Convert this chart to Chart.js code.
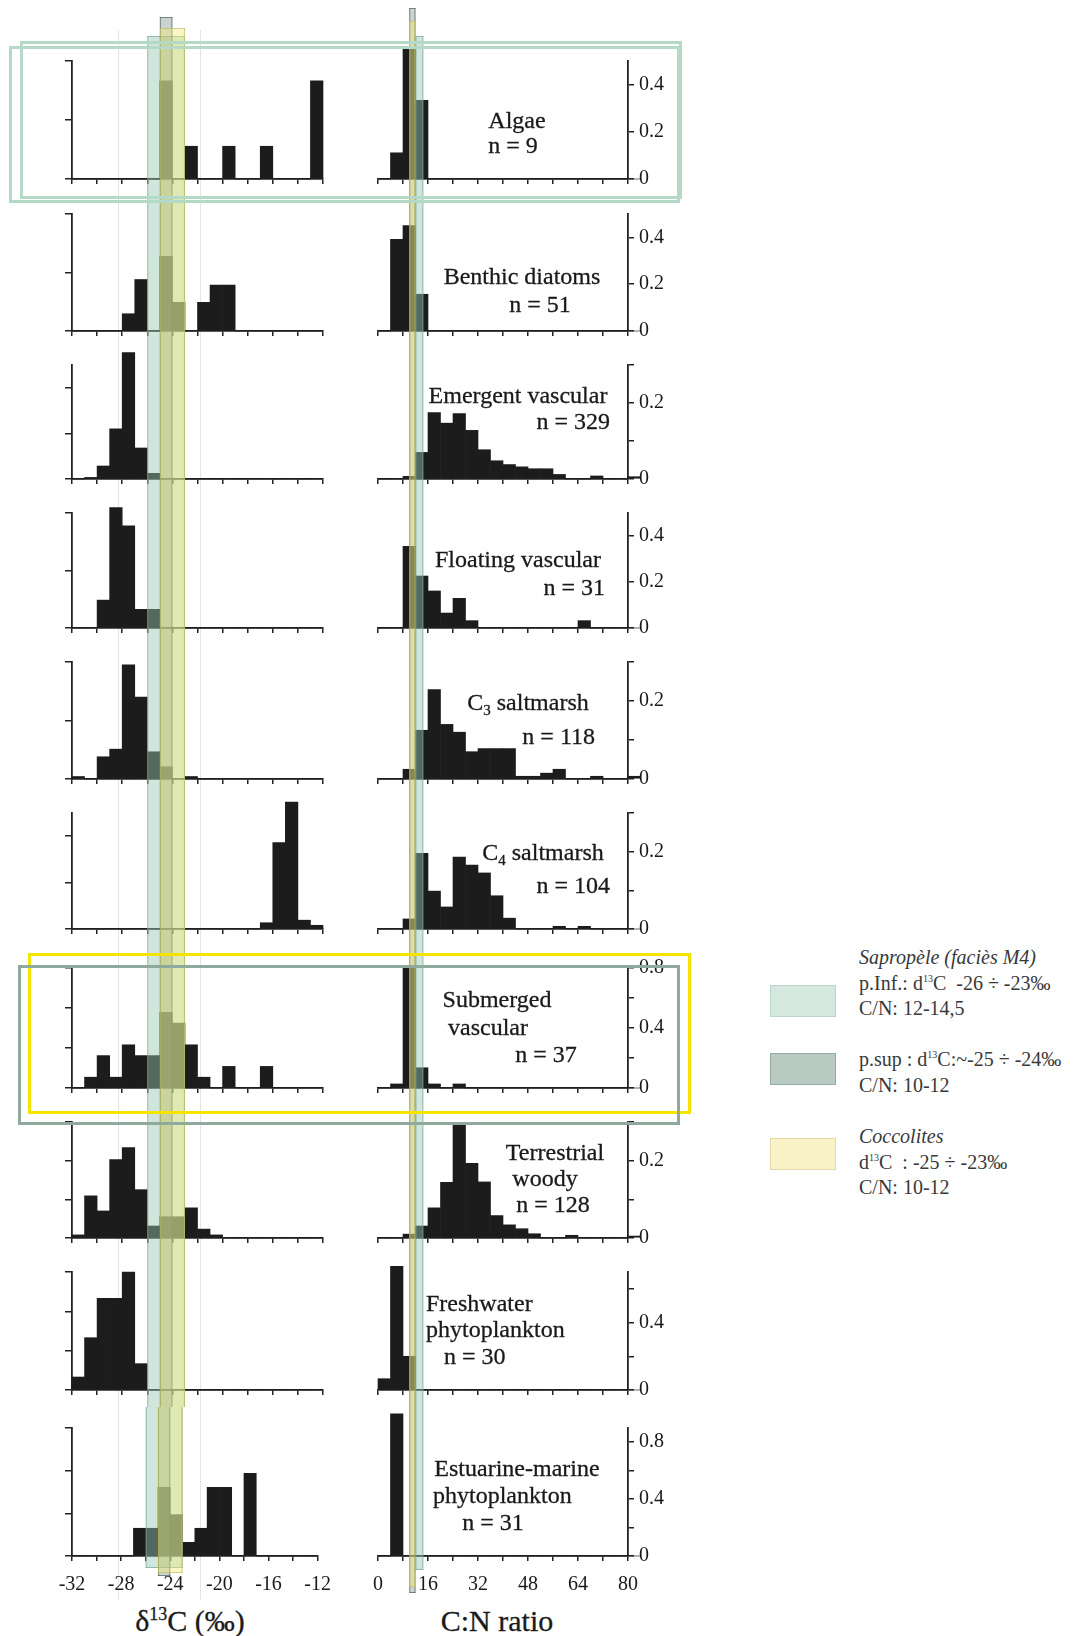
<!DOCTYPE html>
<html>
<head>
<meta charset="utf-8">
<script src="https://cdn.jsdelivr.net/npm/chart.js@4.4.1/dist/chart.umd.min.js"></script>
<style>
  body { margin: 0; background: #fff; }
  #wrap { position: relative; width: 1085px; height: 1636px; overflow: hidden; background: #fff;
          font-family: 'Liberation Serif', 'Times New Roman', serif; color: #1a1a1a; }
  .lab { position: absolute; font-size: 24px; line-height: 26px; white-space: nowrap; -webkit-text-stroke: 0.3px #1a1a1a; }
  .lab sub { font-size: 15px; vertical-align: -5px; line-height: 0; }
  .title { position: absolute; font-size: 30px; white-space: nowrap; transform: translate(-50%, -50%); -webkit-text-stroke: 0.3px #1a1a1a; }
  .title sup { font-size: 18px; vertical-align: 11px; line-height: 0; }
  .box { position: absolute; left: 770px; width: 66px; height: 32px; box-sizing: border-box; }
  .lg { position: absolute; left: 859px; font-size: 20px; line-height: 25.5px; color: #383838; white-space: nowrap; }
  .lg sup { font-size: 10px; vertical-align: 8px; line-height: 0; }
  .hl { position: absolute; box-sizing: border-box; pointer-events: none; }
  .scan { position: absolute; width: 1px; background: #e4e4e4; }
</style>
</head>
<body>
<div id="wrap">
  <div class="scan" style="left:118px;top:30px;height:1570px"></div>
  <div class="scan" style="left:200px;top:30px;height:1570px"></div>
  <div class="box" style="top:985px;background:#d4e8df;border:1px solid #bcd5ca"></div>
  <div class="box" style="top:1053px;background:#b8cac2;border:1px solid #97aba2"></div>
  <div class="box" style="top:1138px;background:#f9f2c6;border:1px solid #e2d9a4"></div>
  <div class="lg" style="top:945px"><i>Sapropèle (faciès M4)</i><br>p.Inf.: d<sup>13</sup>C&nbsp; -26 ÷ -23‰<br>C/N: 12-14,5</div>
  <div class="lg" style="top:1047px">p.sup : d<sup>13</sup>C:~-25 ÷ -24‰<br>C/N: 10-12</div>
  <div class="lg" style="top:1124px"><i>Coccolites</i><br>d<sup>13</sup>C&nbsp; : -25 ÷ -23‰<br>C/N: 10-12</div>
  <div class="title" style="left:190px;top:1621px">δ<sup>13</sup>C (‰)</div>
  <div class="title" style="left:497px;top:1621px">C:N ratio</div>
</div>
<script>
// groups (rows, top to bottom)
const groups = ['Algae', 'Benthic diatoms', 'Emergent vascular', 'Floating vascular', 'C3 saltmarsh',
  'C4 saltmarsh', 'Submerged vascular', 'Terrestrial woody', 'Freshwater phytoplankton', 'Estuarine-marine phytoplankton'];
const groupN = [9, 51, 329, 31, 118, 104, 37, 128, 30, 31];

// histogram bins (left edges)
const d13cBins = [-32, -31, -30, -29, -28, -27, -26, -25, -24, -23, -22, -21, -20, -19, -18, -17, -16, -15, -14, -13];
const cnBins = [0, 4, 8, 12, 16, 20, 24, 28, 32, 36, 40, 44, 48, 52, 56, 60, 64, 68, 72, 76, 80];

// d13C relative frequency
const algaeD13C       = [0, 0, 0, 0, 0, 0, 0, 0.333, 0, 0.111, 0, 0, 0.111, 0, 0, 0.111, 0, 0, 0, 0.333];
const benthicD13C     = [0, 0, 0, 0, 0.059, 0.176, 0, 0.255, 0.098, 0, 0.098, 0.157, 0.157, 0, 0, 0, 0, 0, 0, 0];
const emergentD13C    = [0, 0.007, 0.057, 0.22, 0.555, 0.136, 0.025, 0, 0, 0, 0, 0, 0, 0, 0, 0, 0, 0, 0, 0];
const floatingD13C    = [0, 0, 0.097, 0.419, 0.355, 0.065, 0.065, 0, 0, 0, 0, 0, 0, 0, 0, 0, 0, 0, 0, 0];
const c3D13C          = [0.0085, 0, 0.076, 0.102, 0.39, 0.28, 0.093, 0.042, 0, 0.0085, 0, 0, 0, 0, 0, 0, 0, 0, 0, 0];
const c4D13C          = [0, 0, 0, 0, 0, 0, 0, 0, 0, 0, 0, 0, 0, 0, 0, 0.027, 0.372, 0.547, 0.038, 0.016];
const submergedD13C   = [0, 0.027, 0.081, 0.027, 0.108, 0.081, 0.081, 0.189, 0.162, 0.108, 0.027, 0, 0.054, 0, 0, 0.054, 0, 0, 0, 0];
const terrestrialD13C = [0.008, 0.109, 0.07, 0.203, 0.234, 0.125, 0.031, 0.055, 0.055, 0.078, 0.023, 0.008, 0, 0, 0, 0, 0, 0, 0, 0];
const freshwaterD13C  = [0.033, 0.133, 0.233, 0.233, 0.3, 0.067, 0, 0, 0, 0, 0, 0, 0, 0, 0, 0, 0, 0, 0, 0];
const estuarineD13C   = [0, 0, 0, 0, 0, 0.065, 0.065, 0.161, 0.097, 0.032, 0.065, 0.161, 0.161, 0, 0.194, 0, 0, 0, 0, 0];

// C:N relative frequency (last bin = above 80)
const algaeCN       = [0, 0.111, 0.556, 0.333, 0, 0, 0, 0, 0, 0, 0, 0, 0, 0, 0, 0, 0, 0, 0, 0, 0];
const benthicCN     = [0, 0.392, 0.451, 0.157, 0, 0, 0, 0, 0, 0, 0, 0, 0, 0, 0, 0, 0, 0, 0, 0, 0];
const emergentCN    = [0, 0, 0.007, 0.07, 0.175, 0.147, 0.172, 0.128, 0.077, 0.048, 0.038, 0.032, 0.027, 0.027, 0.012, 0, 0, 0.008, 0, 0, 0.006];
const floatingCN    = [0, 0, 0.355, 0.226, 0.161, 0.065, 0.129, 0.032, 0, 0, 0, 0, 0, 0, 0, 0, 0.032, 0, 0, 0, 0];
const c3CN          = [0, 0, 0.025, 0.125, 0.229, 0.14, 0.12, 0.07, 0.078, 0.078, 0.078, 0.007, 0.007, 0.015, 0.025, 0, 0, 0.007, 0, 0, 0.007];
const c4CN          = [0, 0, 0.026, 0.196, 0.098, 0.057, 0.186, 0.165, 0.145, 0.086, 0.028, 0, 0, 0, 0.007, 0, 0.007, 0, 0, 0, 0];
const submergedCN   = [0, 0.027, 0.8, 0.135, 0.027, 0, 0.027, 0, 0, 0, 0, 0, 0, 0, 0, 0, 0, 0, 0, 0, 0];
const terrestrialCN = [0, 0, 0.01, 0.031, 0.078, 0.144, 0.292, 0.193, 0.145, 0.058, 0.034, 0.024, 0.011, 0, 0, 0.007, 0, 0, 0, 0, 0.005];
const freshwaterCN  = [0.067, 0.733, 0.2, 0, 0, 0, 0, 0, 0, 0, 0, 0, 0, 0, 0, 0, 0, 0, 0, 0, 0];
const estuarineCN   = [0, 1.0, 0, 0, 0, 0, 0, 0, 0, 0, 0, 0, 0, 0, 0, 0, 0, 0, 0, 0, 0];

const d13cRows = [algaeD13C, benthicD13C, emergentD13C, floatingD13C, c3D13C, c4D13C, submergedD13C, terrestrialD13C, freshwaterD13C, estuarineD13C];
const cnRows = [algaeCN, benthicCN, emergentCN, floatingCN, c3CN, c4CN, submergedCN, terrestrialCN, freshwaterCN, estuarineCN];

// axes
const d13cTickLabels = [-32, -28, -24, -20, -16, -12];
const cnTickLabels = [0, 16, 32, 48, 64, 80];
const leftMax  = [0.4, 0.4, 0.5, 0.4, 0.4, 0.5, 0.3, 0.3, 0.3, 0.3];
const leftStep = [0.2, 0.2, 0.2, 0.2, 0.2, 0.2, 0.1, 0.1, 0.1, 0.1];
const rightMax  = [0.5, 0.5, 0.3, 0.5, 0.3, 0.3, 0.8, 0.3, 0.7, 0.9];
const rightStep = [0.2, 0.2, 0.1, 0.2, 0.1, 0.1, 0.2, 0.1, 0.2, 0.2];
const rightTickLabels = [[0, 0.2, 0.4], [0, 0.2, 0.4], [0, 0.2], [0, 0.2, 0.4], [0, 0.2], [0, 0.2], [0, 0.4, 0.8], [0, 0.2], [0, 0.4], [0, 0.4, 0.8]];

// shaded ranges (sapropel levels and coccolites)
const saproInfD13C = [-26, -23], saproSupD13C = [-25, -24], coccoD13C = [-25, -23];
const saproInfCN = [12, 14.5], saproSupCN = [10, 12], coccoCN = [10, 12];

// page layout (px)
const rowTop  = [61, 214, 362, 512, 661, 811, 968, 1119, 1270, 1428];
const rowBase = [187, 339, 487, 636, 787, 937, 1096, 1246, 1398, 1556];
const PAGE_H = 1636;
const FONT = "'Liberation Serif', 'Times New Roman', serif";
const BAR = '#1c1c1c', AXIS = '#222';
const TEAL = 'rgba(150,200,180,0.45)', GREY = 'rgba(105,130,120,0.35)', YEL = 'rgba(240,235,120,0.42)';

Chart.defaults.font.family = FONT;
Chart.defaults.color = '#1a1a1a';

const wrap = document.getElementById('wrap');

function addCanvas(left, top, w, h) {
  const c = document.createElement('canvas');
  c.width = w; c.height = h;
  c.style.cssText = `position:absolute;left:${left}px;top:${top}px;width:${w}px;height:${h}px`;
  wrap.appendChild(c);
  return c;
}

// shaded columns run through every panel, so each chart paints its slice
function bandPlugin(pageTop, bands) {
  return {
    id: 'bands',
    afterDraw(chart) {
      const ctx = chart.ctx, xs = chart.scales.x;
      bands.forEach(b => {
        const x0 = xs.getPixelForValue(b.range[0]), x1 = xs.getPixelForValue(b.range[1]);
        const y0 = Math.max(0, b.top - pageTop), y1 = Math.min(chart.height, b.bottom - pageTop);
        if (y1 <= y0) return;
        ctx.save();
        ctx.fillStyle = b.fill;
        ctx.fillRect(x0, y0, x1 - x0, y1 - y0);
        ctx.strokeStyle = b.edge;
        ctx.lineWidth = 1;
        ctx.beginPath();
        ctx.moveTo(x0 + 0.5, y0); ctx.lineTo(x0 + 0.5, y1);
        ctx.moveTo(x1 - 0.5, y0); ctx.lineTo(x1 - 0.5, y1);
        if (b.top >= pageTop) { ctx.moveTo(x0, y0 + 0.5); ctx.lineTo(x1, y0 + 0.5); }
        if (b.bottom <= pageTop + chart.height) { ctx.moveTo(x0, y1 - 0.5); ctx.lineTo(x1, y1 - 0.5); }
        ctx.stroke();
        ctx.restore();
      });
    }
  };
}

const leftBands = [
  { range: saproInfD13C, top: 36, bottom: 1568, fill: TEAL, edge: 'rgba(120,165,150,0.7)' },
  { range: saproSupD13C, top: 17, bottom: 1576, fill: GREY, edge: 'rgba(80,100,90,0.7)' },
  { range: coccoD13C, top: 28, bottom: 1573, fill: YEL, edge: 'rgba(185,180,90,0.6)' }
];
const rightBands = [
  { range: saproInfCN, top: 36, bottom: 1570, fill: TEAL, edge: 'rgba(120,165,150,0.7)' },
  { range: saproSupCN, top: 8, bottom: 1593, fill: GREY, edge: 'rgba(80,100,90,0.7)' },
  { range: coccoCN, top: 21, bottom: 1587, fill: YEL, edge: 'rgba(185,180,90,0.6)' }
];

const near = (list, v) => list.find(l => Math.abs(l - v) < 1e-6);

function drawPanel(i, side) {
  const last = i === rowBase.length - 1;
  const top = i === 0 ? 0 : rowBase[i - 1] + 9;
  const bottom = last ? PAGE_H : rowBase[i] + 9;
  const h = bottom - top;
  const xAxisH = bottom - rowBase[i];
  const isLeft = side === 'left';
  const bins = isLeft ? d13cBins : cnBins;
  const binW = isLeft ? 1 : 4;
  const vals = isLeft ? d13cRows[i] : cnRows[i];
  const canvasLeft = isLeft ? 20 : 345;
  const canvasW = isLeft ? 323 : 338;
  const tickLabels = isLeft ? d13cTickLabels : cnTickLabels;

  const c = addCanvas(canvasLeft, top, canvasW, h);
  new Chart(c, {
    type: 'bar',
    data: {
      datasets: [{
        data: vals.map((v, k) => ({ x: bins[k] + binW / 2, y: v })),
        backgroundColor: BAR,
        borderWidth: 0,
        barPercentage: 1,
        categoryPercentage: 1,
        clip: false
      }]
    },
    options: {
      responsive: false,
      animation: false,
      events: [],
      layout: { padding: { top: rowTop[i] - top, left: isLeft ? 0 : 33, right: isLeft ? 20 : 0, bottom: 0 } },
      plugins: { legend: { display: false }, tooltip: { enabled: false } },
      scales: {
        x: {
          type: 'linear',
          min: isLeft ? -32 : 0,
          max: isLeft ? -12 : 80,
          offset: false,
          grid: { offset: false, drawOnChartArea: false, drawTicks: true, tickLength: 5, color: AXIS, lineWidth: 1.5 },
          border: { display: true, color: AXIS, width: 1.8 },
          ticks: {
            stepSize: isLeft ? 2 : 8,
            autoSkip: false,
            maxRotation: 0,
            padding: 12,
            font: { size: 20 },
            callback: v => (last && near(tickLabels, v) !== undefined) ? String(v) : ''
          },
          afterFit: s => { s.height = xAxisH; }
        },
        y: {
          type: 'linear',
          position: isLeft ? 'left' : 'right',
          min: 0,
          max: isLeft ? leftMax[i] : rightMax[i],
          grid: { drawOnChartArea: false, drawTicks: true, tickLength: isLeft ? 7 : 6, color: AXIS, lineWidth: 1.5 },
          border: { display: true, color: AXIS, width: 1.8 },
          ticks: {
            stepSize: isLeft ? leftStep[i] : rightStep[i],
            includeBounds: false,
            padding: 5,
            font: { size: 20 },
            callback: v => {
              if (isLeft) return '';
              const hit = near(rightTickLabels[i], v);
              return hit === undefined ? '' : String(hit);
            }
          },
          afterFit: s => { s.width = isLeft ? 52 : 55; }
        }
      }
    },
    plugins: [bandPlugin(top, isLeft ? leftBands : rightBands)]
  });
}

for (let i = 0; i < groups.length; i++) {
  drawPanel(i, 'left');
  drawPanel(i, 'right');
}

// panel captions: [html, x, y, anchor]
const captions = [
  ['Algae', 517, 120, 'c'], ['n = ' + groupN[0], 513, 145, 'c'],
  ['Benthic diatoms', 522, 276, 'c'], ['n = ' + groupN[1], 540, 304, 'c'],
  ['Emergent vascular', 518, 395, 'c'], ['n = ' + groupN[2], 610, 421, 'r'],
  ['Floating vascular', 518, 559, 'c'], ['n = ' + groupN[3], 605, 587, 'r'],
  ['C<sub>3</sub> saltmarsh', 528, 702, 'c'], ['n = ' + groupN[4], 595, 736, 'r'],
  ['C<sub>4</sub> saltmarsh', 543, 852, 'c'], ['n = ' + groupN[5], 610, 885, 'r'],
  ['Submerged', 497, 999, 'c'], ['vascular', 488, 1027, 'c'], ['n = ' + groupN[6], 546, 1054, 'c'],
  ['Terrestrial', 555, 1152, 'c'], ['woody', 545, 1178, 'c'], ['n = ' + groupN[7], 553, 1204, 'c'],
  ['Freshwater', 426, 1303, 'l'], ['phytoplankton', 426, 1329, 'l'], ['n = ' + groupN[8], 444, 1356, 'l'],
  ['Estuarine-marine', 517, 1468, 'c'], ['phytoplankton', 433, 1495, 'l'], ['n = ' + groupN[9], 493, 1522, 'c']
];
captions.forEach(([html, x, y, a]) => {
  const d = document.createElement('div');
  d.className = 'lab';
  d.innerHTML = html;
  d.style.top = y + 'px';
  if (a === 'c') { d.style.left = x + 'px'; d.style.transform = 'translate(-50%,-50%)'; }
  else if (a === 'r') { d.style.right = (1085 - x) + 'px'; d.style.transform = 'translateY(-50%)'; }
  else { d.style.left = x + 'px'; d.style.transform = 'translateY(-50%)'; }
  wrap.appendChild(d);
});

// highlight frames drawn over the figure
const frames = [
  [9, 46, 671, 157, '#b4d9c6', 3.5],
  [20, 41, 662, 158, '#b4d9c6', 3.5],
  [28, 953, 663, 161, '#f4e400', 3.5],
  [18, 965, 662, 160, '#8fa99c', 3]
];
frames.forEach(([l, t, w, h, col, bw]) => {
  const d = document.createElement('div');
  d.className = 'hl';
  d.style.cssText += `left:${l}px;top:${t}px;width:${w}px;height:${h}px;border:${bw}px solid ${col}`;
  wrap.appendChild(d);
});
</script>
</body>
</html>
